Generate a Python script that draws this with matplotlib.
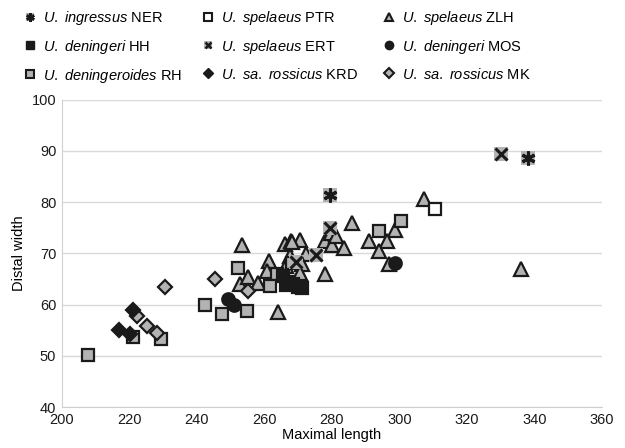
import matplotlib
matplotlib.use("Agg")
import matplotlib.pyplot as plt
from matplotlib.lines import Line2D
from matplotlib.legend_handler import HandlerTuple

# data (maximal length, distal width)
ner_x = [279.5, 338.0]
ner_y = [81.3, 88.6]
ptr_x = [310.7]
ptr_y = [78.6]
zlh_x = [253.5, 252.9, 255.1, 258.1, 261.5, 260.8, 264.0, 266.1, 268.0, 270.5,
         267.7, 272.2, 271.2, 270.6, 278.1, 279.6, 280.1, 281.1, 283.6, 278.1,
         286.0, 307.3, 298.7, 291.0, 296.4, 294.0, 297.0, 336.0, 268.3, 266.5]
zlh_y = [71.6, 64.0, 65.3, 64.3, 68.5, 66.6, 58.6, 71.8, 72.4, 72.7,
         69.5, 69.8, 67.9, 66.2, 72.4, 74.0, 71.6, 73.4, 71.0, 66.0,
         76.0, 80.6, 74.5, 72.4, 72.4, 70.5, 68.0, 67.0, 72.2, 67.5]
hh_x = [265.5, 267.0, 268.5, 270.0, 271.0, 266.5]
hh_y = [65.5, 64.5, 64.0, 63.5, 63.2, 63.8]
ert_x = [279.5, 275.4, 269.5, 330.1]
ert_y = [75.0, 69.6, 68.3, 89.4]
mos_x = [249.3, 251.1, 298.7]
mos_y = [61.0, 60.0, 68.2]
rh_x = [207.8, 221.1, 229.4, 242.3, 247.5, 252.3, 254.8, 263.6, 261.8, 268.2, 294.0, 300.4]
rh_y = [50.2, 53.6, 53.2, 60.0, 58.1, 67.1, 58.8, 65.9, 63.6, 68.2, 74.3, 76.4]
krd_x = [217.0, 220.1, 221.1]
krd_y = [55.1, 54.3, 59.0]
mk_x = [222.3, 225.3, 228.1, 230.6, 245.5, 255.0]
mk_y = [57.8, 55.8, 54.5, 63.5, 65.0, 62.6]

labels = [
    r"$\it{U.\ ingressus}$ NER", r"$\it{U.\ spelaeus}$ PTR", r"$\it{U.\ spelaeus}$ ZLH",
    r"$\it{U.\ deningeri}$ HH", r"$\it{U.\ spelaeus}$ ERT", r"$\it{U.\ deningeri}$ MOS",
    r"$\it{U.\ deningeroides}$ RH", r"$\it{U.\ sa.\ rossicus}$ KRD", r"$\it{U.\ sa.\ rossicus}$ MK",
]

gray = "#b3b3b3"
dark = "#1a1a1a"
ew = 1.6
ms = 9

plt.rcParams["font.family"] = "Liberation Sans"
plt.rcParams["mathtext.fontset"] = "custom"
plt.rcParams["mathtext.it"] = "Liberation Sans:italic"
plt.rcParams["mathtext.rm"] = "Liberation Sans"

fig = plt.figure(figsize=(6.25, 4.48), dpi=100)
ax = fig.add_axes([0.099, 0.0915, 0.864, 0.686])


def plot_pts(x, y, **kw):
    ax.plot(x, y, linestyle="none", **kw)


plot_pts(zlh_x, zlh_y, marker="^", ms=ms + 1, mfc=gray, mec=dark, mew=ew)
plot_pts(rh_x, rh_y, marker="s", ms=ms, mfc=gray, mec=dark, mew=ew)
plot_pts(mk_x, mk_y, marker="D", ms=ms - 2, mfc=gray, mec=dark, mew=ew)
plot_pts(ptr_x, ptr_y, marker="s", ms=ms, mfc="white", mec=dark, mew=ew)
plot_pts(hh_x, hh_y, marker="s", ms=ms, mfc=dark, mec=dark, mew=ew)
plot_pts(mos_x, mos_y, marker="o", ms=ms, mfc=dark, mec=dark, mew=ew)
plot_pts(krd_x, krd_y, marker="D", ms=ms - 2, mfc=dark, mec=dark, mew=ew)
plot_pts(ert_x, ert_y, marker="s", ms=ms + 1, mfc=gray, mec=gray, mew=0)
plot_pts(ert_x, ert_y, marker="x", ms=ms, mec=dark, mew=2.2)
plot_pts(ner_x, ner_y, marker="s", ms=ms + 1, mfc=gray, mec=gray, mew=0)
plot_pts(ner_x, ner_y, marker=(6, 2, 0), ms=ms + 1, mec=dark, mew=2.2)

ax.set_xlim(200, 360)
ax.set_ylim(40, 100)
ax.set_xticks(range(200, 361, 20))
ax.set_yticks(range(40, 101, 10))
ax.yaxis.grid(True, color="#d9d9d9", linewidth=1)
ax.set_axisbelow(True)
for side in ["top", "right"]:
    ax.spines[side].set_visible(False)
for side in ["left", "bottom"]:
    ax.spines[side].set_color("#d0d0d0")
ax.tick_params(length=0, labelsize=10.5, colors="#1a1a1a", pad=4)
ax.set_xlabel("Maximal length", fontsize=10.5, labelpad=1)
ax.set_ylabel("Distal width", fontsize=10.5, labelpad=4)

# legend handles (smaller markers)
lm = 6
h_ner = (Line2D([], [], ls="none", marker="s", ms=lm, mfc=gray, mec=gray, mew=0),
         Line2D([], [], ls="none", marker=(6, 2, 0), ms=lm, mec=dark, mew=1.8))
h_ptr = Line2D([], [], ls="none", marker="s", ms=lm, mfc="white", mec=dark, mew=1.5)
h_zlh = Line2D([], [], ls="none", marker="^", ms=lm, mfc=gray, mec=dark, mew=1.5)
h_hh = Line2D([], [], ls="none", marker="s", ms=lm, mfc=dark, mec=dark)
h_ert = (Line2D([], [], ls="none", marker="s", ms=lm, mfc=gray, mec=gray, mew=0),
         Line2D([], [], ls="none", marker="x", ms=lm - 1, mec=dark, mew=1.8))
h_mos = Line2D([], [], ls="none", marker="o", ms=lm, mfc=dark, mec=dark)
h_rh = Line2D([], [], ls="none", marker="s", ms=lm, mfc=gray, mec=dark, mew=1.5)
h_krd = Line2D([], [], ls="none", marker="D", ms=lm - 1, mfc=dark, mec=dark)
h_mk = Line2D([], [], ls="none", marker="D", ms=lm - 1, mfc=gray, mec=dark, mew=1.5)

handles = [h_ner, h_ptr, h_zlh, h_hh, h_ert, h_mos, h_rh, h_krd, h_mk]

# one legend per column so each column sits where it does in the reference
col_x = [0.015, 0.30, 0.59]
for c in range(3):
    idx = [c, c + 3, c + 6]
    fig.legend([handles[i] for i in idx], [labels[i] for i in idx],
               loc="upper left", bbox_to_anchor=(col_x[c], 1.01),
               frameon=False, fontsize=10.5, handlelength=1.0,
               handletextpad=0.4, labelspacing=0.75,
               handler_map={tuple: HandlerTuple(ndivide=1, pad=0)})

fig.savefig("out.png", dpi=100)
